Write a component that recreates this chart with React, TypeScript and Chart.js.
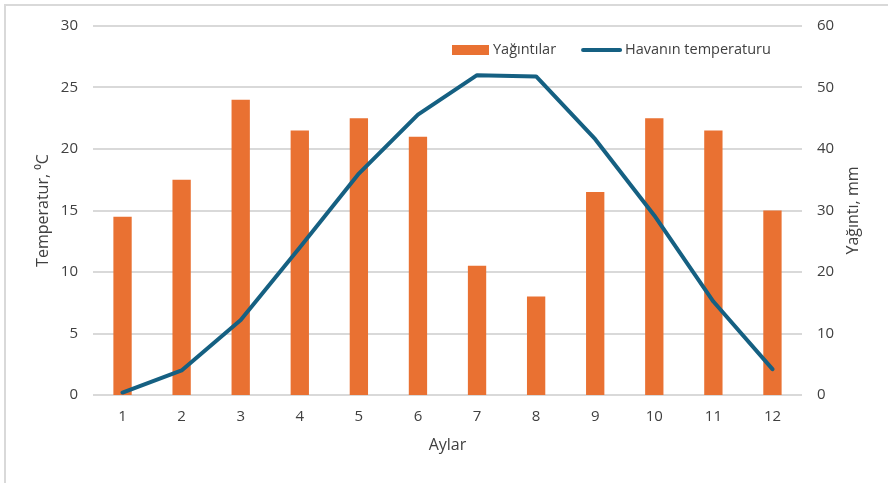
import React, { useEffect, useRef } from "react";
import { Chart, registerables } from "chart.js";

Chart.register(...registerables);

// Monthly climate data
const months = ["1", "2", "3", "4", "5", "6", "7", "8", "9", "10", "11", "12"];
const precipitationMm = [29, 35, 48, 43, 45, 42, 21, 16, 33, 45, 43, 30];
const temperatureC = [0.2, 2.0, 6.1, 12.0, 18.0, 22.8, 26.0, 25.9, 20.8, 14.6, 7.6, 2.1];

const precipLabel = "Yağıntılar";
const tempLabel = "Havanın temperaturu";
const xTitle = "Aylar";
const leftTitle = "Temperatur, ⁰C";
const rightTitle = "Yağıntı, mm";

const tempRange = { min: 0, max: 30, step: 5 };
const precipRange = { min: 0, max: 60, step: 10 };

const FONT = "'Open Sans', 'Noto Sans', sans-serif";
const TEXT = "#404040";
const GRID = "#d9d9d9";
const ORANGE = "#E97132";
const TEAL = "#156082";

const framePlugin = {
  id: "frame",
  beforeDraw(chart: any) {
    const { ctx, width, height } = chart;
    ctx.save();
    ctx.fillStyle = "#ffffff";
    ctx.fillRect(0, 0, width, height);
    ctx.strokeStyle = GRID;
    ctx.lineWidth = 2;
    ctx.strokeRect(5, 5, width + 20, height + 20);
    ctx.restore();
  },
};

// Right-hand axis title, reading bottom-to-top
const rightTitlePlugin = {
  id: "rightTitle",
  afterDraw(chart: any) {
    const { ctx, chartArea } = chart;
    ctx.save();
    ctx.translate(chart.width - 35, (chartArea.top + chartArea.bottom) / 2);
    ctx.rotate(-Math.PI / 2);
    ctx.font = `16px ${FONT}`;
    ctx.fillStyle = TEXT;
    ctx.textAlign = "center";
    ctx.textBaseline = "middle";
    ctx.fillText(rightTitle, 0, 0);
    ctx.restore();
  },
};

const insideLegend = {
  id: "insideLegend",
  afterDatasetsDraw(chart: any) {
    const { ctx, chartArea } = chart;
    const y = chartArea.top + 24;
    let x = chartArea.left + 359;
    ctx.save();
    ctx.font = `14.5px ${FONT}`;
    ctx.textBaseline = "middle";
    ctx.textAlign = "left";

    // bar entry
    ctx.fillStyle = ORANGE;
    ctx.fillRect(x, y - 5, 37, 10);
    x += 41;
    ctx.fillStyle = TEXT;
    ctx.fillText(precipLabel, x, y);
    x += ctx.measureText(precipLabel).width + 25;

    // line entry
    ctx.strokeStyle = TEAL;
    ctx.lineWidth = 4;
    ctx.lineCap = "round";
    ctx.beginPath();
    ctx.moveTo(x + 2, y);
    ctx.lineTo(x + 39, y);
    ctx.stroke();
    x += 44;
    ctx.fillText(tempLabel, x, y);
    ctx.restore();
  },
};

export default function App() {
  const ref = useRef<HTMLCanvasElement | null>(null);

  useEffect(() => {
    if (!ref.current) return;
    const chart = new Chart(ref.current, {
      type: "bar",
      data: {
        labels: months,
        datasets: [
          {
            type: "bar",
            label: precipLabel,
            data: precipitationMm,
            backgroundColor: ORANGE,
            yAxisID: "y1",
            order: 1,
            barPercentage: 0.62,
            categoryPercentage: 0.5,
          },
          {
            type: "line",
            label: tempLabel,
            data: temperatureC,
            borderColor: TEAL,
            backgroundColor: TEAL,
            borderWidth: 4,
            pointRadius: 0,
            tension: 0,
            borderCapStyle: "round",
            borderJoinStyle: "round",
            yAxisID: "y",
            order: 0,
          },
        ],
      },
      options: {
        responsive: false,
        animation: false,
        devicePixelRatio: 1,
        layout: { padding: { left: 0, right: 0, top: 26, bottom: 0 } },
        plugins: {
          legend: { display: false },
          tooltip: { enabled: false },
        },
        scales: {
          x: {
            grid: { display: false, drawTicks: false },
            border: { display: false },
            ticks: { color: TEXT, font: { family: FONT, size: 15 }, padding: 13 },
            title: {
              display: true,
              text: xTitle,
              color: TEXT,
              font: { family: FONT, size: 16 },
              padding: { top: 0, bottom: 28 },
            },
            afterFit(scale: any) {
              scale.height = 88;
            },
          },
          y: {
            position: "left",
            min: tempRange.min,
            max: tempRange.max,
            ticks: {
              stepSize: tempRange.step,
              color: TEXT,
              font: { family: FONT, size: 15 },
              padding: 15,
            },
            grid: { color: GRID, lineWidth: 2, drawTicks: false },
            border: { display: false },
            title: {
              display: true,
              text: leftTitle,
              color: TEXT,
              font: { family: FONT, size: 16 },
              padding: { top: 34, bottom: 0 },
            },
            afterFit(scale: any) {
              scale.width = 93;
            },
          },
          y1: {
            position: "right",
            min: precipRange.min,
            max: precipRange.max,
            ticks: {
              stepSize: precipRange.step,
              color: TEXT,
              font: { family: FONT, size: 15 },
              padding: 15,
            },
            grid: { display: false, drawTicks: false },
            border: { display: false },
            title: { display: false },
            afterFit(scale: any) {
              scale.width = 86;
            },
          },
        },
      },
      plugins: [framePlugin, insideLegend, rightTitlePlugin],
    } as any);
    return () => chart.destroy();
  }, []);

  return (
    <div style={{ position: "absolute", left: 0, top: 0, width: 888, height: 483, overflow: "hidden" }}>
      <canvas ref={ref} width={888} height={483} style={{ display: "block" }} />
    </div>
  );
}
